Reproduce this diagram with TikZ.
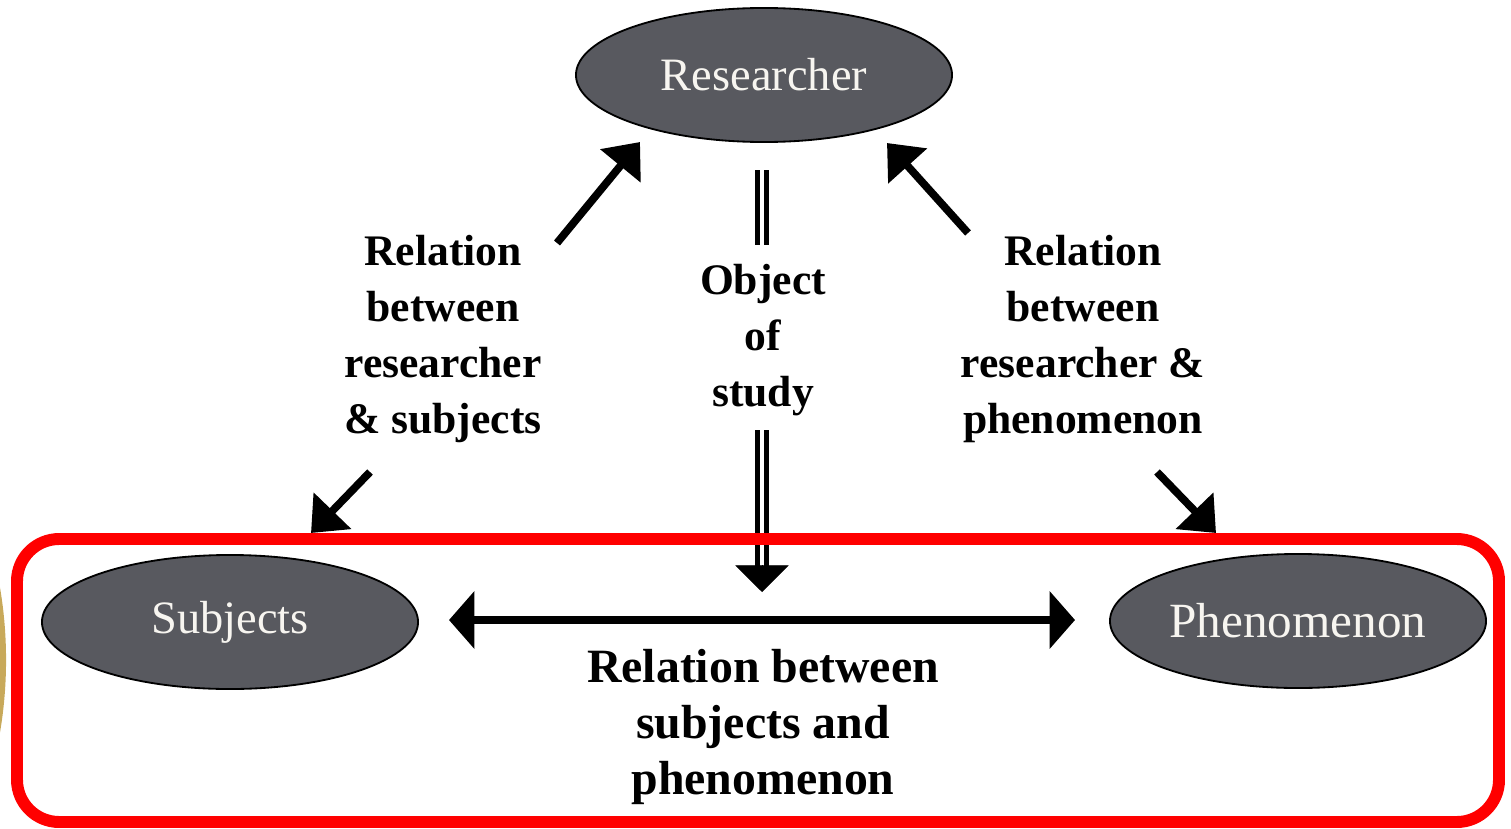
\documentclass[tikz,border=0pt]{standalone}
\usepackage{fontspec}
\setmainfont{Liberation Serif}
\usetikzlibrary{arrows.meta,shapes.geometric}
\definecolor{ellfill}{HTML}{58595F}
\definecolor{goldc}{HTML}{C8A95A}
\definecolor{txtw}{HTML}{F7F5F0}
\begin{document}
\begin{tikzpicture}[x=0.025cm,y=-0.025cm,
  ell/.style={ellipse, draw=black, line width=1.3pt, fill=ellfill, inner sep=0pt,
    minimum width=9.4cm, minimum height=3.35cm, text=txtw,
    font=\fontsize{33}{40}\selectfont},
  lbl/.style={font=\fontsize{31}{40}\selectfont\bfseries, align=center, inner sep=0pt},
  diag/.style={line width=5.5pt, -{Triangle[length=22pt,width=36pt]}},
  horiz/.style={line width=5.7pt, {Triangle[length=18pt,width=40pt]}-{Triangle[length=18pt,width=40pt]}},
  dbl/.style={line width=3.6pt, double, double distance=2.8pt},
  frame/.style={draw=red, line width=8.5pt, rounded corners=30pt}
]
\useasboundingbox (0,0) rectangle (1511,828);
\begin{scope}
  \clip (0,0) rectangle (1511,828);
  \fill[goldc] (-200,660) ellipse [x radius=5.15cm, y radius=7.5cm];
\end{scope}

% ellipses
\node[ell] (res) at (764,75) {Researcher};
\node[ell] (sub) at (230,622) {Subjects};
\node[ell, font=\fontsize{35}{40}\selectfont] (phe) at (1298,621) {Phenomenon};

% labels
\node[lbl] (lrs) at (443,339) {Relation\\between\\researcher\\\& subjects};
\node[lbl] (lrp) at (1083,339) {Relation\\between\\researcher \&\\phenomenon};
\node[lbl] (obj) at (763,340) {Object\\of\\study};
\node[lbl, font=\fontsize{34}{40}\selectfont\bfseries] (lsp) at (763,727) {Relation between\\subjects and\\phenomenon};

% coordinates for connector ends
\coordinate (a1s) at (557,243);
\coordinate (a1e) at (640,142);
\coordinate (a2s) at (370,472);
\coordinate (a2e) at (311,533);
\coordinate (a3s) at (968,233);
\coordinate (a3e) at (887,143);
\coordinate (a4s) at (1157,472);
\coordinate (a4e) at (1216,533);
\coordinate (hl) at (449,620);
\coordinate (hr) at (1075,620);
\coordinate (d1s) at (762,170);
\coordinate (d1e) at (762,245);
\coordinate (d2s) at (762,430);
\coordinate (d2e) at (762,570);
\coordinate (d2t) at (762,592);

% arrows
\draw[diag] (a1s) -- (a1e);
\draw[diag] (a2s) -- (a2e);
\draw[diag] (a3s) -- (a3e);
\draw[diag] (a4s) -- (a4e);
\draw[horiz] (hl) -- (hr);
\draw[dbl] (d1s) -- (d1e);
\draw[dbl] (d2s) -- (d2e);
\draw[line width=0.5pt, -{Triangle[length=19pt,width=38pt]}] ([yshift=0.1cm]d2e) -- (d2t);

% red frame
\draw[frame] (17,539) rectangle (1499,822);
\end{tikzpicture}
\end{document}
